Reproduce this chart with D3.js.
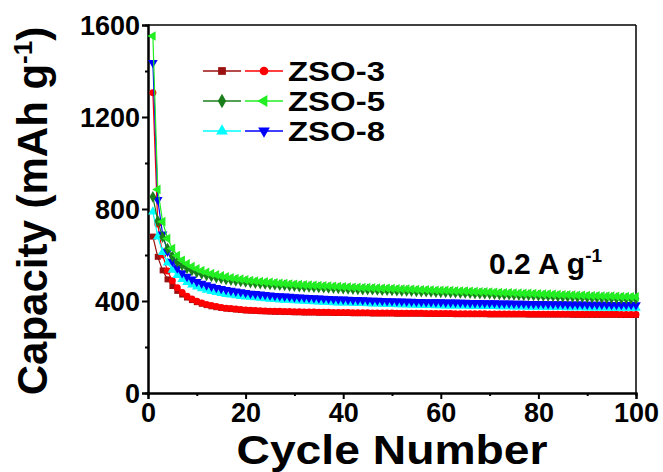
<!DOCTYPE html>
<html><head><meta charset="utf-8">
<script src="https://cdn.jsdelivr.net/npm/d3@7"></script>
<style>body{margin:0;background:#fff}svg{display:block}text{font-family:"Liberation Sans",Arial,sans-serif;font-weight:bold}</style>
</head><body>
<svg id="c" width="663" height="472"></svg>
<script>
const cycles = d3.range(1, 101);
const zso3Charge = [680,592,533,494,465,444,428,415,404,395,388,382,377,373,370,367,365,363,361,359,358,357,356,355,354,353,353,352,352,351,351,350,350,350,349,349,349,348,348,348,348,347,347,347,347,346,346,346,346,346,345,345,345,345,345,345,344,344,344,344,344,344,343,343,343,343,343,343,343,342,342,342,342,342,342,342,342,341,341,341,341,341,341,341,341,341,340,340,340,340,340,340,340,340,340,340,339,339,339,339];
const zso3Discharge = [1305,735,600,530,488,458,437,421,409,399,391,385,380,376,372,369,367,365,363,361,360,359,358,357,356,355,355,354,354,353,353,352,352,352,351,351,351,350,350,350,350,349,349,349,349,348,348,348,348,348,347,347,347,347,347,347,346,346,346,346,346,346,345,345,345,345,345,345,345,344,344,344,344,344,344,344,344,343,343,343,343,343,343,343,343,343,342,342,342,342,342,342,342,342,342,342,341,341,341,341];
const zso5Charge = [853,748,678,628,594,571,555,543,533,525,518,512,507,502,498,494,491,488,485,483,480,478,476,474,472,471,469,468,466,465,463,462,461,460,459,458,457,456,455,454,453,452,451,450,450,449,448,447,447,446,445,444,444,443,442,441,441,440,439,438,438,437,436,435,435,434,433,432,432,431,430,429,428,428,427,426,425,425,424,423,422,422,421,420,419,419,418,417,417,416,415,415,414,413,413,412,411,411,410,410];
const zso5Discharge = [1552,885,745,672,628,598,577,562,550,540,532,525,519,514,509,505,501,498,495,492,489,487,485,483,481,479,477,476,474,473,471,470,469,468,467,466,465,464,463,462,461,460,459,458,458,457,456,455,455,454,453,452,452,451,450,449,449,448,447,446,446,445,444,443,443,442,441,440,440,439,438,437,436,436,435,434,433,433,432,431,430,430,429,428,427,427,426,425,425,424,423,423,422,421,421,420,419,419,418,418];
const zso8Charge = [788,680,612,566,535,512,495,482,471,462,455,448,443,438,434,430,427,424,421,419,417,415,413,411,409,408,406,405,404,402,401,400,399,398,397,396,395,394,393,392,392,391,390,390,389,388,388,387,386,386,385,385,384,384,383,383,382,382,381,381,380,380,380,379,379,378,378,378,377,377,377,376,376,376,375,375,375,374,374,374,374,373,373,373,373,372,372,372,372,371,371,371,371,371,370,370,370,370,370,370];
const zso8Discharge = [1436,840,690,615,572,543,522,506,494,484,476,469,463,458,453,449,445,442,439,436,433,431,429,427,425,423,422,420,419,417,416,415,414,413,412,411,410,409,408,407,406,405,405,404,403,402,402,401,400,400,399,399,398,398,397,397,396,396,395,395,394,394,394,393,393,392,392,392,391,391,391,390,390,390,389,389,389,388,388,388,388,387,387,387,387,386,386,386,386,385,385,385,385,385,384,384,384,384,384,383];
const xTicks = [0,20,40,60,80,100];
const yTicks = [0,400,800,1200,1600];
const legendNames = ["ZSO-3","ZSO-5","ZSO-8"];

const series = [
  {values: zso3Charge, color:"#9b1010", sym:d3.symbolSquare, rot:0, size:36, group:0, col:0},
  {values: zso3Discharge, color:"#ff0000", sym:d3.symbolCircle, rot:0, size:38, group:0, col:1},
  {values: zso8Charge, color:"#00ffff", sym:d3.symbolTriangle, rot:0, size:40, group:2, col:0},
  {values: zso8Discharge, color:"#0000ff", sym:d3.symbolTriangle, rot:180, size:40, group:2, col:1},
  {values: zso5Charge, color:"#1a7f1a", sym:d3.symbolDiamond, rot:0, size:40, group:1, col:0},
  {values: zso5Discharge, color:"#22ee22", sym:d3.symbolTriangle, rot:-90, size:40, group:1, col:1}
];

const svg = d3.select("#c");
const L=148, R=636, T=25, B=393;
const x = d3.scaleLinear().domain([0,100]).range([L,R]);
const y = d3.scaleLinear().domain([0,1600]).range([B,T]);

// frame
svg.append("line").attr("x1",L).attr("x2",R).attr("y1",T).attr("y2",T).attr("stroke","#000").attr("stroke-width",1.5);
svg.append("line").attr("x1",R).attr("x2",R).attr("y1",T).attr("y2",B).attr("stroke","#000").attr("stroke-width",1.5);

// axes
const xAxis = svg.append("g").attr("transform",`translate(0,${B})`)
  .call(d3.axisBottom(x).tickValues(xTicks).tickSize(6).tickPadding(3).tickFormat(d3.format("d")));
const xMinor = svg.append("g").attr("transform",`translate(0,${B})`)
  .call(d3.axisBottom(x).tickValues(d3.range(10,100,20)).tickSize(3).tickFormat(""));
const yAxis = svg.append("g").attr("transform",`translate(${L},0)`)
  .call(d3.axisLeft(y).tickValues(yTicks).tickSize(6).tickPadding(2).tickFormat(d3.format("d")));
const yMinor = svg.append("g").attr("transform",`translate(${L},0)`)
  .call(d3.axisLeft(y).tickValues(d3.range(200,1600,400)).tickSize(3).tickFormat(""));
[xAxis,xMinor,yAxis,yMinor].forEach(g=>{
  g.select(".domain").attr("stroke","#000").attr("stroke-width",2);
  g.selectAll(".tick line").attr("stroke","#000").attr("stroke-width",2);
  g.selectAll(".tick text").attr("fill","#000").style("font-size","27px").style("font-family","'Liberation Sans',Arial,sans-serif").style("font-weight","bold");
});
xAxis.selectAll(".tick text").attr("dy","0.73em");
yAxis.selectAll(".tick text").attr("dy","0.36em");

// data
const line = d3.line().x((d,i)=>x(cycles[i])).y(d=>y(d));
series.forEach(s=>{
  const g = svg.append("g");
  g.append("path").datum(s.values).attr("d",line).attr("fill","none").attr("stroke",s.color).attr("stroke-width",1.2);
  const sym = d3.symbol().type(s.sym).size(s.size);
  g.selectAll("path.m").data(s.values).join("path").attr("class","m")
    .attr("d",sym).attr("fill",s.color)
    .attr("transform",(d,i)=>`translate(${x(cycles[i])},${y(d)}) rotate(${s.rot})`);
});

// legend
const rowY = [71,101,131];
series.forEach(s=>{
  const x0 = s.col===0 ? 203 : 245;
  const ly = rowY[s.group];
  svg.append("line").attr("x1",x0).attr("x2",x0+38).attr("y1",ly).attr("y2",ly).attr("stroke",s.color).attr("stroke-width",1.5);
  svg.append("path").attr("d",d3.symbol().type(s.sym).size(60)).attr("fill",s.color)
    .attr("transform",`translate(${x0+19},${ly}) rotate(${s.rot})`);
});
legendNames.forEach((n,i)=>{
  svg.append("text").attr("x",288).attr("y",rowY[i]+10).attr("textLength",97).attr("lengthAdjust","spacingAndGlyphs").style("font-size","28px").text(n);
});

// annotation
const ann = svg.append("text").attr("x",489).attr("y",274).style("font-size","30px");
ann.append("tspan").text("0.2 A g");
ann.append("tspan").attr("dy",-12).style("font-size","19px").text("-1");

// axis titles
svg.append("text").attr("x",(L+R)/2).attr("y",464).attr("text-anchor","middle").attr("textLength",311).attr("lengthAdjust","spacingAndGlyphs").style("font-size","40px").text("Cycle Number");
const yt = svg.append("text").attr("transform",`translate(47,${(T+B)/2+2}) rotate(-90)`).attr("text-anchor","middle").style("font-size","42px");
yt.append("tspan").text("Capacity (mAh g");
yt.append("tspan").attr("dy",-15).style("font-size","26px").text("-1");
yt.append("tspan").attr("dy",15).text(")");
</script>
</body></html>
